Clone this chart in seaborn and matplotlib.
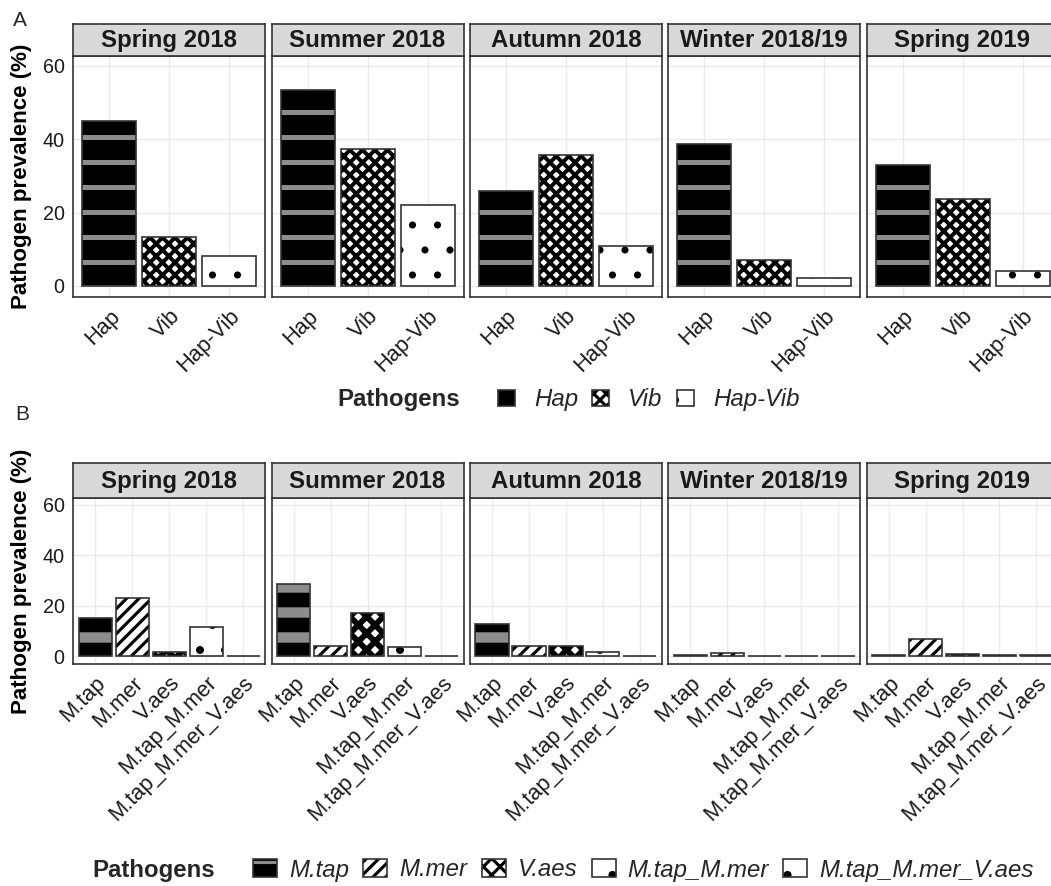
import numpy as np
import pandas as pd
import matplotlib
matplotlib.use("Agg")
import matplotlib.pyplot as plt
from matplotlib.patches import Patch, Rectangle
import seaborn as sns

# ---- data ----
seasons = ["Spring 2018", "Summer 2018", "Autumn 2018", "Winter 2018/19", "Spring 2019"]

# panel A
groups_a = ["Hap", "Vib", "Hap-Vib"]
hap = [45.0, 53.5, 26.0, 38.8, 32.9]
vib = [13.3, 37.4, 35.8, 7.2, 23.8]
hap_vib = [8.2, 22.0, 11.0, 2.3, 4.0]

# panel B
groups_b = ["M.tap", "M.mer", "V.aes", "M.tap_M.mer", "M.tap_M.mer_V.aes"]
m_tap = [15.2, 28.5, 12.8, 0.5, 0.6]
m_mer = [23.3, 4.3, 4.0, 1.3, 7.0]
v_aes = [1.6, 17.0, 4.0, 0.0, 1.0]
m_tap_m_mer = [11.7, 3.8, 1.7, 0.0, 0.6]
m_tap_m_mer_v_aes = [0.0, 0.0, 0.0, 0.0, 0.5]

y_ticks = [0, 20, 40, 60]


def long_table(groups, series):
    rows = []
    for g, vals in zip(groups, series):
        for s, v in zip(seasons, vals):
            rows.append({"season": s, "pathogen": g, "prevalence": v})
    return pd.DataFrame(rows)


df_a = long_table(groups_a, [hap, vib, hap_vib])
df_b = long_table(groups_b, [m_tap, m_mer, v_aes, m_tap_m_mer, m_tap_m_mer_v_aes])

# fill patterns: face, hatch, hatch colour, hatch linewidth
styles_a = {
    "Hap": ("black", "-", "#8c8c8c", 2.4),
    "Vib": ("white", "xxxx", "black", 1.9),
    "Hap-Vib": ("white", ".", "black", 1.0),
}
styles_b = {
    "M.tap": ("black", "-", "#8c8c8c", 5.0),
    "M.mer": ("white", "////", "black", 1.5),
    "V.aes": ("white", "xxx", "black", 2.8),
    "M.tap_M.mer": ("white", ".", "black", 1.4),
    "M.tap_M.mer_V.aes": ("white", ".", "black", 1.4),
}

OUTLINE = "#333333"

sns.set_theme(style="white")
plt.rcParams["font.family"] = ["Liberation Sans", "DejaVu Sans"]
plt.rcParams["hatch.linewidth"] = 1.5

W, H, DPI = 1051, 886, 150
fig = plt.figure(figsize=(W / DPI, H / DPI), dpi=DPI)


def box(left, top, width, height):
    return [left / W, 1 - (top + height) / H, width / W, height / H]


def style_patch(p, st):
    face, hatch, hcol, hlw = st
    p.set_facecolor(face)
    p.set_edgecolor(hcol)
    p.set_hatch(hatch)
    p.set_linewidth(0)
    if hasattr(p, "set_hatch_linewidth"):
        p.set_hatch_linewidth(hlw)


rows = [
    dict(df=df_a, groups=groups_a, styles=styles_a, ptop=56, ph=241, stop=24, sh=32),
    dict(df=df_b, groups=groups_b, styles=styles_b, ptop=498, ph=166, stop=463, sh=35),
]

for row in rows:
    groups = row["groups"]
    for i, season in enumerate(seasons):
        left = 73.3 + i * 198.3
        ax = fig.add_axes(box(left, row["ptop"], 192, row["ph"]))
        sub = row["df"][row["df"]["season"] == season]
        sns.barplot(data=sub, x="pathogen", y="prevalence", order=groups,
                    color="white", saturation=1, width=0.9, errorbar=None, ax=ax)
        for p, g in zip(ax.patches, groups):
            style_patch(p, row["styles"][g])
        for p in list(ax.patches):
            ax.add_patch(Rectangle((p.get_x(), p.get_y()), p.get_width(), p.get_height(),
                                   fill=False, edgecolor=OUTLINE, linewidth=0.8, zorder=3))
        ax.set_xlim(-0.6, len(groups) - 0.4)
        ax.set_ylim(-3.0, 62.7)
        ax.set_yticks(y_ticks)
        ax.set_axisbelow(True)
        ax.grid(True, color="#ebebeb", linewidth=0.7)
        for sp in ax.spines.values():
            sp.set_color(OUTLINE)
            sp.set_linewidth(0.8)
        ax.set_xlabel("")
        ax.tick_params(axis="both", length=2.2, width=0.6, color=OUTLINE,
                       labelcolor="#1a1a1a", pad=2)
        ax.tick_params(axis="y", labelsize=9.5)
        ax.tick_params(axis="x", labelsize=10.5, labelrotation=45)
        plt.setp(ax.get_xticklabels(), ha="right", va="top", rotation_mode="anchor")
        if i == 0:
            ax.set_ylabel("Pathogen prevalence (%)", fontsize=10.75, fontweight="bold",
                          color="black", labelpad=5)
        else:
            ax.set_ylabel("")
            ax.tick_params(axis="y", left=False, labelleft=False)

        # facet strip
        sax = fig.add_axes(box(left, row["stop"], 192, row["sh"]))
        sax.set_facecolor("#d9d9d9")
        sax.set_xticks([])
        sax.set_yticks([])
        for sp in sax.spines.values():
            sp.set_color(OUTLINE)
            sp.set_linewidth(0.8)
        sax.text(0.5, 0.48, season, transform=sax.transAxes, ha="center", va="center",
                 fontsize=11.5, fontweight="bold", color="#1a1a1a")


def legend_handles(styles, groups):
    hs = []
    for g in groups:
        face, hatch, hcol, hlw = styles[g]
        p = Patch(facecolor=face, edgecolor=hcol, hatch=hatch, linewidth=0)
        if hasattr(p, "set_hatch_linewidth"):
            p.set_hatch_linewidth(hlw)
        hs.append((p, Patch(fill=False, edgecolor=OUTLINE, linewidth=0.8)))
    return hs


fig.text(13 / W, 1 - 20 / H, "A", fontsize=10, va="center", ha="left")
fig.text(15 / W, 1 - 415 / H, "B", fontsize=10, va="center", ha="left")

# legend A
fig.text(337 / W, 1 - 400 / H, "Pathogens", fontsize=11.5, fontweight="bold", va="center")
fig.legend(legend_handles(styles_a, groups_a), groups_a, loc="center left",
           bbox_to_anchor=(498 / W, 1 - 400 / H), ncol=3, frameon=False,
           prop=dict(style="italic", size=11.5), handlelength=0.7, handleheight=0.7,
           handletextpad=0.8, columnspacing=0.6, borderpad=0, borderaxespad=0)

# legend B
fig.text(92 / W, 1 - 870 / H, "Pathogens", fontsize=11.5, fontweight="bold", va="center")
fig.legend(legend_handles(styles_b, groups_b), groups_b, loc="center left",
           bbox_to_anchor=(253 / W, 1 - 870 / H), ncol=5, frameon=False,
           prop=dict(style="italic", size=11.5), handlelength=1.0, handleheight=0.75,
           handletextpad=0.5, columnspacing=0.6, borderpad=0, borderaxespad=0)

fig.savefig("out.png", dpi=DPI, facecolor="white")
